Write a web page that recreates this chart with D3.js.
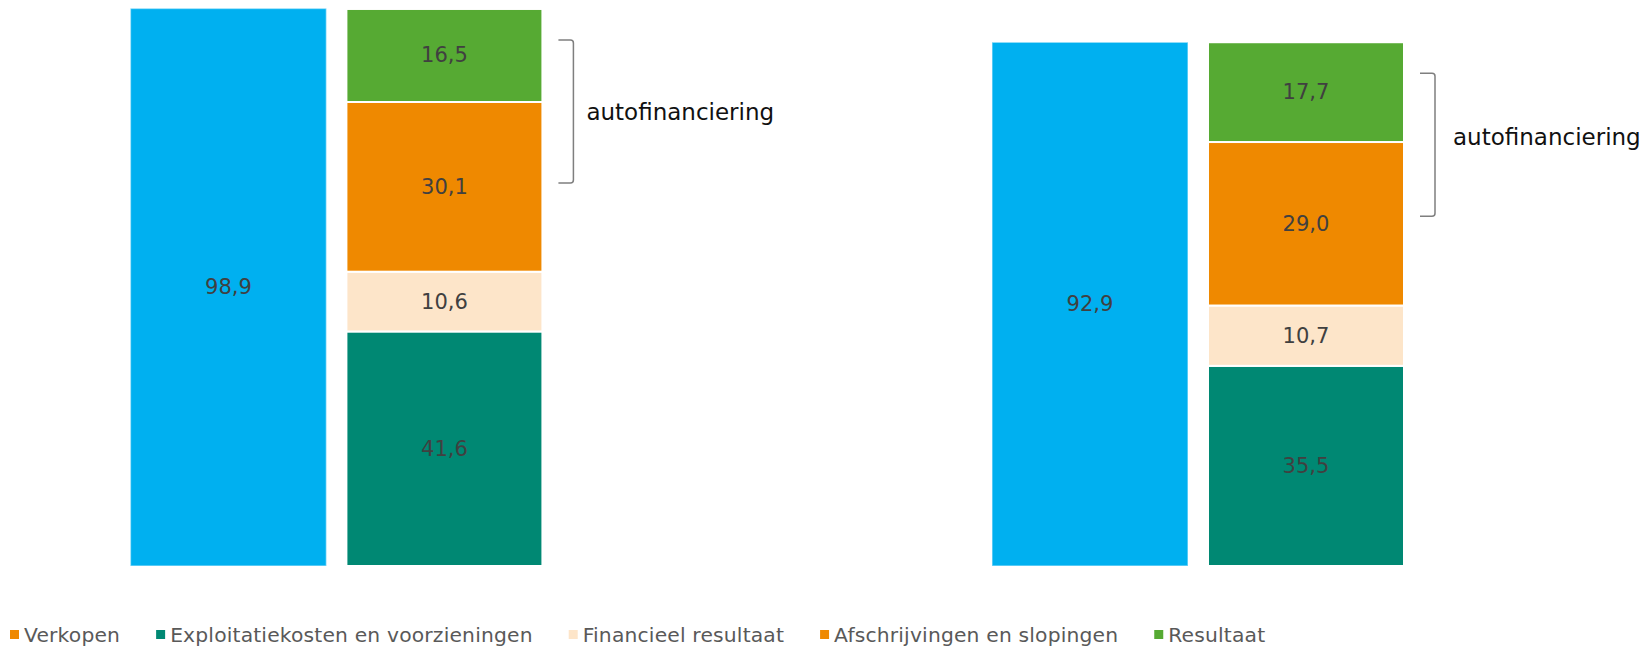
<!DOCTYPE html>
<html>
<head>
<meta charset="utf-8">
<script src="https://cdn.jsdelivr.net/npm/d3@7"></script>
<style>
  html, body { margin: 0; padding: 0; background: #fff; }
  svg { display: block; }
</style>
</head>
<body>
<svg id="chart" width="1649" height="648"></svg>
<script>
// Data
const groups = ["Jaar 1", "Jaar 2"];
const barKinds = ["verkopen", "kosten"];
const verkopen = [98.9, 92.9];
const exploitatie = [41.6, 35.5];
const financieel = [10.6, 10.7];
const afschrijvingen = [30.1, 29.0];
const resultaat = [16.5, 17.7];
const stackKeys = ["exploitatie", "financieel", "afschrijvingen", "resultaat"];
const legendNames = ["Verkopen", "Exploitatiekosten en voorzieningen", "Financieel resultaat", "Afschrijvingen en slopingen", "Resultaat"];
const annotationText = "autofinanciering";

const colors = {
  verkopen: "#00b0f0",
  exploitatie: "#008873",
  financieel: "#fde5c9",
  afschrijvingen: "#ef8900",
  resultaat: "#56aa33"
};
const legendColors = ["#ef8900", "#008873", "#fde5c9", "#ef8900", "#56aa33"];

const fmt = d3.formatLocale({ decimal: ",", thousands: ".", grouping: [3], currency: ["€", ""] }).format(".1f");

const svg = d3.select("#chart");

const y = d3.scaleLinear().domain([0, 100]).range([566, 2.2]);

const xGroup = d3.scaleBand()
  .domain(groups)
  .range([130.4, 1404])
  .paddingInner(0.5218)
  .paddingOuter(0);

const xBar = d3.scaleBand()
  .domain(barKinds)
  .range([0, xGroup.bandwidth()])
  .paddingInner(0.0926)
  .paddingOuter(0);

const rows = groups.map((g, i) => ({
  group: g,
  exploitatie: exploitatie[i],
  financieel: financieel[i],
  afschrijvingen: afschrijvingen[i],
  resultaat: resultaat[i]
}));
const stacked = d3.stack().keys(stackKeys)(rows);

const labelStyle = sel => sel
  .attr("text-anchor", "middle")
  .attr("dominant-baseline", "central")
  .style("font-family", "'DejaVu Sans', sans-serif")
  .style("font-size", "21px")
  .style("fill", "#404040");

// Verkopen bars
const gSales = svg.append("g").attr("class", "sales");
gSales.selectAll("rect")
  .data(groups)
  .enter()
  .append("rect")
  .attr("x", (g) => xGroup(g) + xBar("verkopen"))
  .attr("y", (g, i) => y(verkopen[i]))
  .attr("width", xBar.bandwidth())
  .attr("height", (g, i) => y(0) - y(verkopen[i]))
  .attr("fill", colors.verkopen)
  .attr("stroke", "rgba(255,255,255,0.45)")
  .attr("stroke-width", 1.5);
gSales.selectAll("text")
  .data(groups)
  .enter()
  .append("text")
  .attr("x", (g) => xGroup(g) + xBar("verkopen") + xBar.bandwidth() / 2)
  .attr("y", (g, i) => (y(verkopen[i]) + y(0)) / 2)
  .text((g, i) => fmt(verkopen[i]))
  .call(labelStyle);

// Stacked cost bars
const gStack = svg.append("g").attr("class", "stack");
stacked.forEach(layer => {
  const g = gStack.append("g").attr("class", "layer-" + layer.key);
  g.selectAll("rect")
    .data(layer)
    .enter()
    .append("rect")
    .attr("x", d => xGroup(d.data.group) + xBar("kosten"))
    .attr("y", d => y(d[1]))
    .attr("width", xBar.bandwidth())
    .attr("height", d => y(d[0]) - y(d[1]))
    .attr("fill", colors[layer.key])
    .attr("stroke", "#fff")
    .attr("stroke-width", 2);
  g.selectAll("text")
    .data(layer)
    .enter()
    .append("text")
    .attr("x", d => xGroup(d.data.group) + xBar("kosten") + xBar.bandwidth() / 2)
    .attr("y", d => (y(d[0]) + y(d[1])) / 2)
    .text(d => fmt(d[1] - d[0]))
    .call(labelStyle);
});

// autofinanciering brackets
const textShift = [80, 72];
const textGap = [13, 18];
const totals = rows.map(r => stackKeys.reduce((s, k) => s + r[k], 0));
const gAnn = svg.append("g").attr("class", "annotations");
groups.forEach((g, i) => {
  const x0 = xGroup(g) + xBar("kosten") + xBar.bandwidth() + 16;
  const x1 = x0 + 15;
  const top = y(totals[i]) + 31;
  const bottom = top + 143;
  gAnn.append("path")
    .attr("d", `M${x0},${top} H${x1 - 3} Q${x1},${top} ${x1},${top + 3} V${bottom - 3} Q${x1},${bottom} ${x1 - 3},${bottom} H${x0}`)
    .attr("fill", "none")
    .attr("stroke", "#7f7f7f")
    .attr("stroke-width", 1.5);
  gAnn.append("text")
    .attr("x", x1 + textGap[i])
    .attr("y", top + textShift[i])
    .text(annotationText)
    .style("font-family", "'DejaVu Sans', sans-serif")
    .style("font-size", "23px")
    .style("fill", "#111");
});

// Legend
const legend = svg.append("g").attr("class", "legend");
let lx = 10;
legendNames.forEach((name, i) => {
  legend.append("rect")
    .attr("x", lx)
    .attr("y", 630)
    .attr("width", 9)
    .attr("height", 9)
    .attr("fill", legendColors[i]);
  const t = legend.append("text")
    .attr("x", lx + 14)
    .attr("y", 642)
    .text(name)
    .style("font-family", "'DejaVu Sans', sans-serif")
    .style("font-size", "20.3px")
    .style("letter-spacing", "0.17px")
    .style("fill", "#595959");
  lx += 14 + t.node().getComputedTextLength() + 36;
});
</script>
</body>
</html>
